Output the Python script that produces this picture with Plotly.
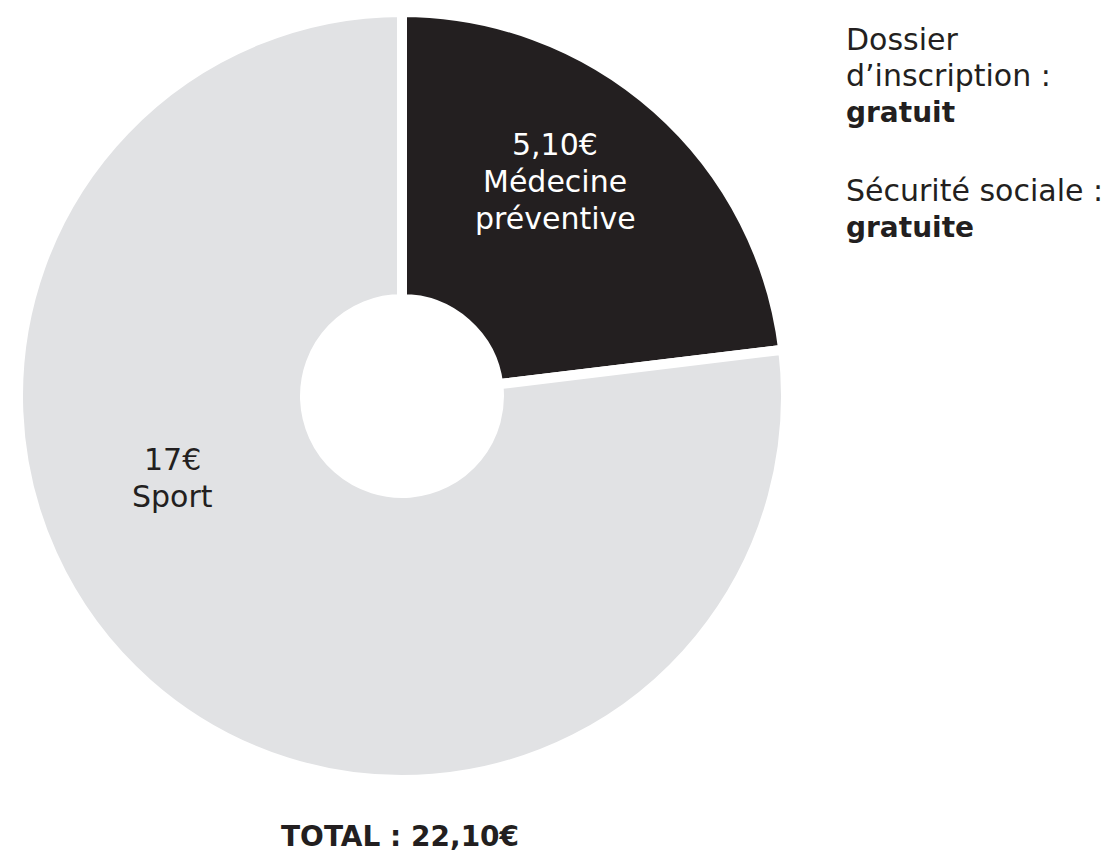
import plotly.graph_objects as go

# ---- data ----
categories = ["Médecine préventive", "Sport"]
category_lines = [["Médecine", "préventive"], ["Sport"]]
values = [5.10, 17.0]
value_text = ["5,10€", "17€"]
slice_colors = ["#231f20", "#e1e2e4"]
label_colors = ["#ffffff", "#231f20"]
side_notes = [(["Dossier", "d’inscription :"], "gratuit"),
              (["Sécurité sociale :"], "gratuite")]

total = sum(values)
total_text = "TOTAL : " + f"{total:.2f}".replace(".", ",") + "€"

W, H = 1119, 856
FONT = "DejaVu Sans"
DARK = "#231f20"
SIZE = 30
BOLD_SIZE = 28
MID = 0.346  # baseline -> middle of line box, in em


def add_line(text, x, baseline, color, size, anchor):
    fig.add_annotation(
        x=x / W, y=1 - (baseline - MID * size) / H,
        xref="paper", yref="paper",
        text=text, showarrow=False,
        xanchor=anchor, yanchor="middle", align=anchor,
        font=dict(family=FONT, size=size, color=color),
    )


fig = go.Figure()
fig.add_trace(go.Pie(
    labels=categories,
    values=values,
    sort=False,
    direction="clockwise",
    rotation=0,
    hole=0.2526,
    marker=dict(colors=slice_colors, line=dict(color="white", width=10)),
    textinfo="none",
    hoverinfo="label+value",
    showlegend=False,
    domain=dict(x=[10 / W, 778 / W], y=[84 / H, 852 / H]),
))

# slice labels (x centre, first baseline)
label_pos = [(547, 147), (164, 462)]
LINE = 37
for i, (x, b0) in enumerate(label_pos):
    lines = [value_text[i]] + category_lines[i]
    for k, t in enumerate(lines):
        add_line(t, x, b0 + k * LINE, label_colors[i], SIZE, "center")

# side notes (left x, first baseline)
note_pos = [(836, 42), (836, 193)]
for (heads, bold), (x, b0) in zip(side_notes, note_pos):
    k = 0
    for t in heads:
        add_line(t, x, b0 + k * 36, DARK, SIZE, "left")
        k += 1
    add_line("<b>" + bold + "</b>", x, b0 + k * 36, DARK, BOLD_SIZE, "left")

# total
add_line("<b>" + total_text + "</b>", 392, 838, DARK, BOLD_SIZE, "center")

fig.update_layout(
    width=W, height=H,
    margin=dict(l=0, r=0, t=0, b=0),
    paper_bgcolor="white",
    plot_bgcolor="white",
)

fig.write_html("out.html")
